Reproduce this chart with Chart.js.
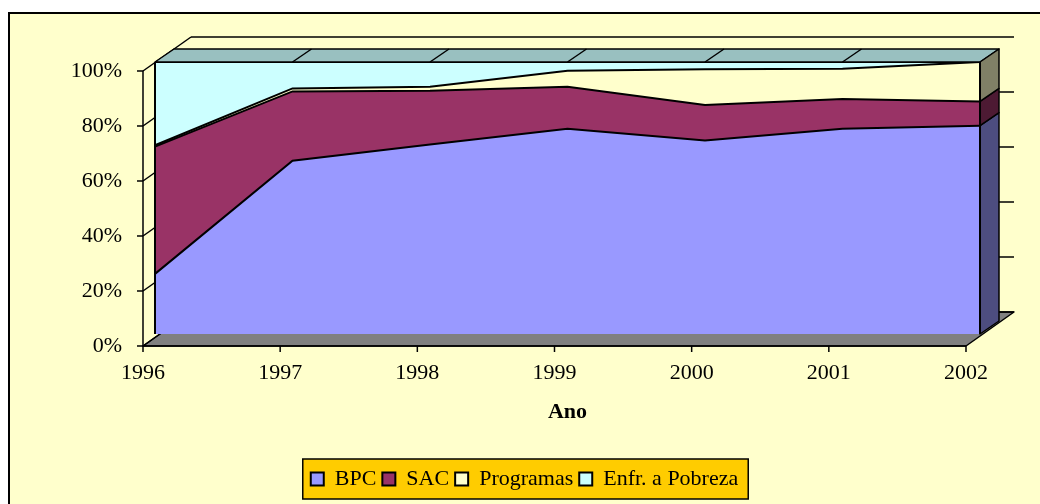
<!DOCTYPE html>
<html>
<head>
<meta charset="utf-8">
<script src="https://cdn.jsdelivr.net/npm/chart.js@4/dist/chart.umd.min.js"></script>
<style>
  html, body { margin: 0; padding: 0; background: #fff; }
  #wrap { width: 1040px; height: 504px; }
</style>
</head>
<body>
<div id="wrap"><canvas id="area-chart"></canvas></div>
<script>
// shares in % (100% stacked area)
const years = [1996, 1997, 1998, 1999, 2000, 2001, 2002];
const bpc = [22.1, 63.7, 69.7, 75.5, 71.1, 75.5, 76.6];
const sac = [46.8, 25.5, 19.7, 15.4, 13.1, 10.9, 8.9];
const programas = [0.5, 1.1, 1.5, 5.9, 13.1, 11.1, 14.5];
const pobreza = [30.6, 9.7, 9.1, 3.2, 2.7, 2.5, 0.0];
const pctTicks = [0, 20, 40, 60, 80, 100];

const frontColors = ['#9999FF', '#993366', '#FFFFCC', '#CCFFFF'];
const sideColors = ['#4D4D80', '#4D1A33', '#808066', '#668080'];

Chart.defaults.font.family = "'Liberation Serif', 'Times New Roman', serif";
Chart.defaults.font.size = 22;
Chart.defaults.color = '#000';

const depth = { x: 19, y: -13 };  // thickness of the area block
const wall = { x: 48, y: -34 };   // axis plane -> back wall

const poly = (c, pts, fill) => {
    c.beginPath();
    pts.forEach((p, i) => i ? c.lineTo(p[0], p[1]) : c.moveTo(p[0], p[1]));
    c.closePath();
    if (fill) { c.fillStyle = fill; c.fill(); }
    c.stroke();
};
const line = (c, ax, ay, bx, by) => {
    c.beginPath(); c.moveTo(ax, ay); c.lineTo(bx, by); c.stroke();
};

const scene3d = {
    id: 'scene3d',
    beforeDraw(chart) {
        const c = chart.ctx;
        c.save();
        c.fillStyle = '#fff';
        c.fillRect(0, 0, chart.width, chart.height);
        c.fillStyle = '#FFFFCC';
        c.fillRect(9, 13, chart.width, chart.height);
        c.lineWidth = 2;
        c.strokeStyle = '#000';
        c.strokeRect(9, 13, chart.width + 20, chart.height + 20);

        // gold box behind the legend
        const boxes = chart.legend.legendHitBoxes || [];
        if (boxes.length) {
            const l = Math.min(...boxes.map(b => b.left)) - 8;
            const r = Math.max(...boxes.map(b => b.left + b.width)) + 10;
            const mid = boxes[0].top + boxes[0].height / 2;
            c.fillStyle = '#FFCC00';
            c.fillRect(l, mid - 20, r - l, 40);
            c.lineWidth = 1.5;
            c.strokeRect(l, mid - 20, r - l, 40);
        }
        c.restore();
    },
    beforeDatasetsDraw(chart) {
        const c = chart.ctx;
        const { x, y, xl, yl } = chart.scales;
        const last = years.length - 1;
        c.save();
        c.lineWidth = 1.5;
        c.strokeStyle = '#000';
        c.lineJoin = 'round';

        // floor and walls (axis plane)
        const x0 = xl.getPixelForValue(years[0]);
        const x1 = xl.getPixelForValue(years[last]);
        const yb = yl.getPixelForValue(0);
        poly(c, [[x0, yb], [x1, yb], [x1 + wall.x, yb + wall.y], [x0 + wall.x, yb + wall.y]], '#808080');
        pctTicks.forEach(v => {
            const py = yl.getPixelForValue(v);
            line(c, x0, py, x0 + wall.x, py + wall.y);
            line(c, x0 + wall.x, py + wall.y, x1 + wall.x, py + wall.y);
            line(c, x0 - 6, py, x0, py);
        });
        line(c, x0, yl.getPixelForValue(0), x0, yl.getPixelForValue(100));
        line(c, x0, yb, x1, yb);
        years.forEach(yr => {
            const px = xl.getPixelForValue(yr);
            line(c, px, yb, px, yb + 6);
        });

        // top face of the block
        const fx0 = x.getPixelForValue(0);
        const fx1 = x.getPixelForValue(last);
        const ytop = y.getPixelForValue(100);
        poly(c, [[fx0, ytop], [fx1, ytop], [fx1 + depth.x, ytop + depth.y], [fx0 + depth.x, ytop + depth.y]], '#99C0C0');
        for (let i = 1; i < last; i++) {
            const px = x.getPixelForValue(i);
            line(c, px, ytop, px + depth.x, ytop + depth.y);
        }

        // right side faces
        let base = 0;
        chart.data.datasets.forEach((ds, k) => {
            const v = ds.data[last];
            if (v > 0) {
                const ya = y.getPixelForValue(base);
                const yt = y.getPixelForValue(base + v);
                poly(c, [[fx1, ya], [fx1, yt], [fx1 + depth.x, yt + depth.y], [fx1 + depth.x, ya + depth.y]], sideColors[k]);
            }
            base += v;
        });
        c.restore();
    },
    afterDatasetsDraw(chart) {
        const c = chart.ctx;
        const { x, y } = chart.scales;
        c.save();
        c.lineWidth = 2;
        c.strokeStyle = '#000';
        [0, years.length - 1].forEach(i => {
            const px = x.getPixelForValue(i);
            line(c, px, y.getPixelForValue(0), px, y.getPixelForValue(100));
        });
        c.restore();
    }
};

const makeSet = (label, data, i) => ({
    label: label,
    data: data,
    backgroundColor: frontColors[i],
    borderColor: '#000',
    borderWidth: 2,
    pointRadius: 0,
    tension: 0,
    fill: i === 0 ? 'origin' : '-1'
});

new Chart(document.getElementById('area-chart'), {
    type: 'line',
    data: {
        labels: years,
        datasets: [
            makeSet('BPC', bpc, 0),
            makeSet('SAC', sac, 1),
            makeSet('Programas', programas, 2),
            makeSet('Enfr. a Pobreza', pobreza, 3)
        ]
    },
    options: {
        responsive: true,
        maintainAspectRatio: false,
        animation: false,
        layout: { padding: { left: 69, right: 60, top: 62, bottom: 4 } },
        plugins: {
            tooltip: { enabled: false },
            legend: {
                position: 'bottom',
                labels: { boxWidth: 13, boxHeight: 13, padding: 6, color: '#000' }
            }
        },
        scales: {
            x: { type: 'category', display: false, offset: false },
            y: { display: false, stacked: true, min: 0, max: 100 },
            // axis-plane scales, shifted in front of the block
            xl: {
                type: 'linear',
                position: 'bottom',
                min: 1996.0875,
                max: 2002.1021,
                grid: { display: false },
                border: { display: false },
                ticks: { padding: 18, autoSkip: false, maxRotation: 0, callback: v => String(v) },
                afterBuildTicks: s => { s.ticks = years.map(v => ({ value: v })); },
                afterFit: s => { s.height = 128; },
                title: {
                    display: true,
                    text: 'Ano',
                    font: { weight: 'bold', size: 22 },
                    padding: { top: 0, bottom: 36 }
                }
            },
            yl: {
                type: 'linear',
                position: 'left',
                min: 4.36,
                max: 103.27,
                grid: { display: false },
                border: { display: false },
                ticks: { padding: 25, callback: v => v + '%' },
                afterBuildTicks: s => { s.ticks = pctTicks.map(v => ({ value: v })); },
                afterFit: s => { s.width = 86; }
            }
        }
    },
    plugins: [scene3d]
});
</script>
</body>
</html>
